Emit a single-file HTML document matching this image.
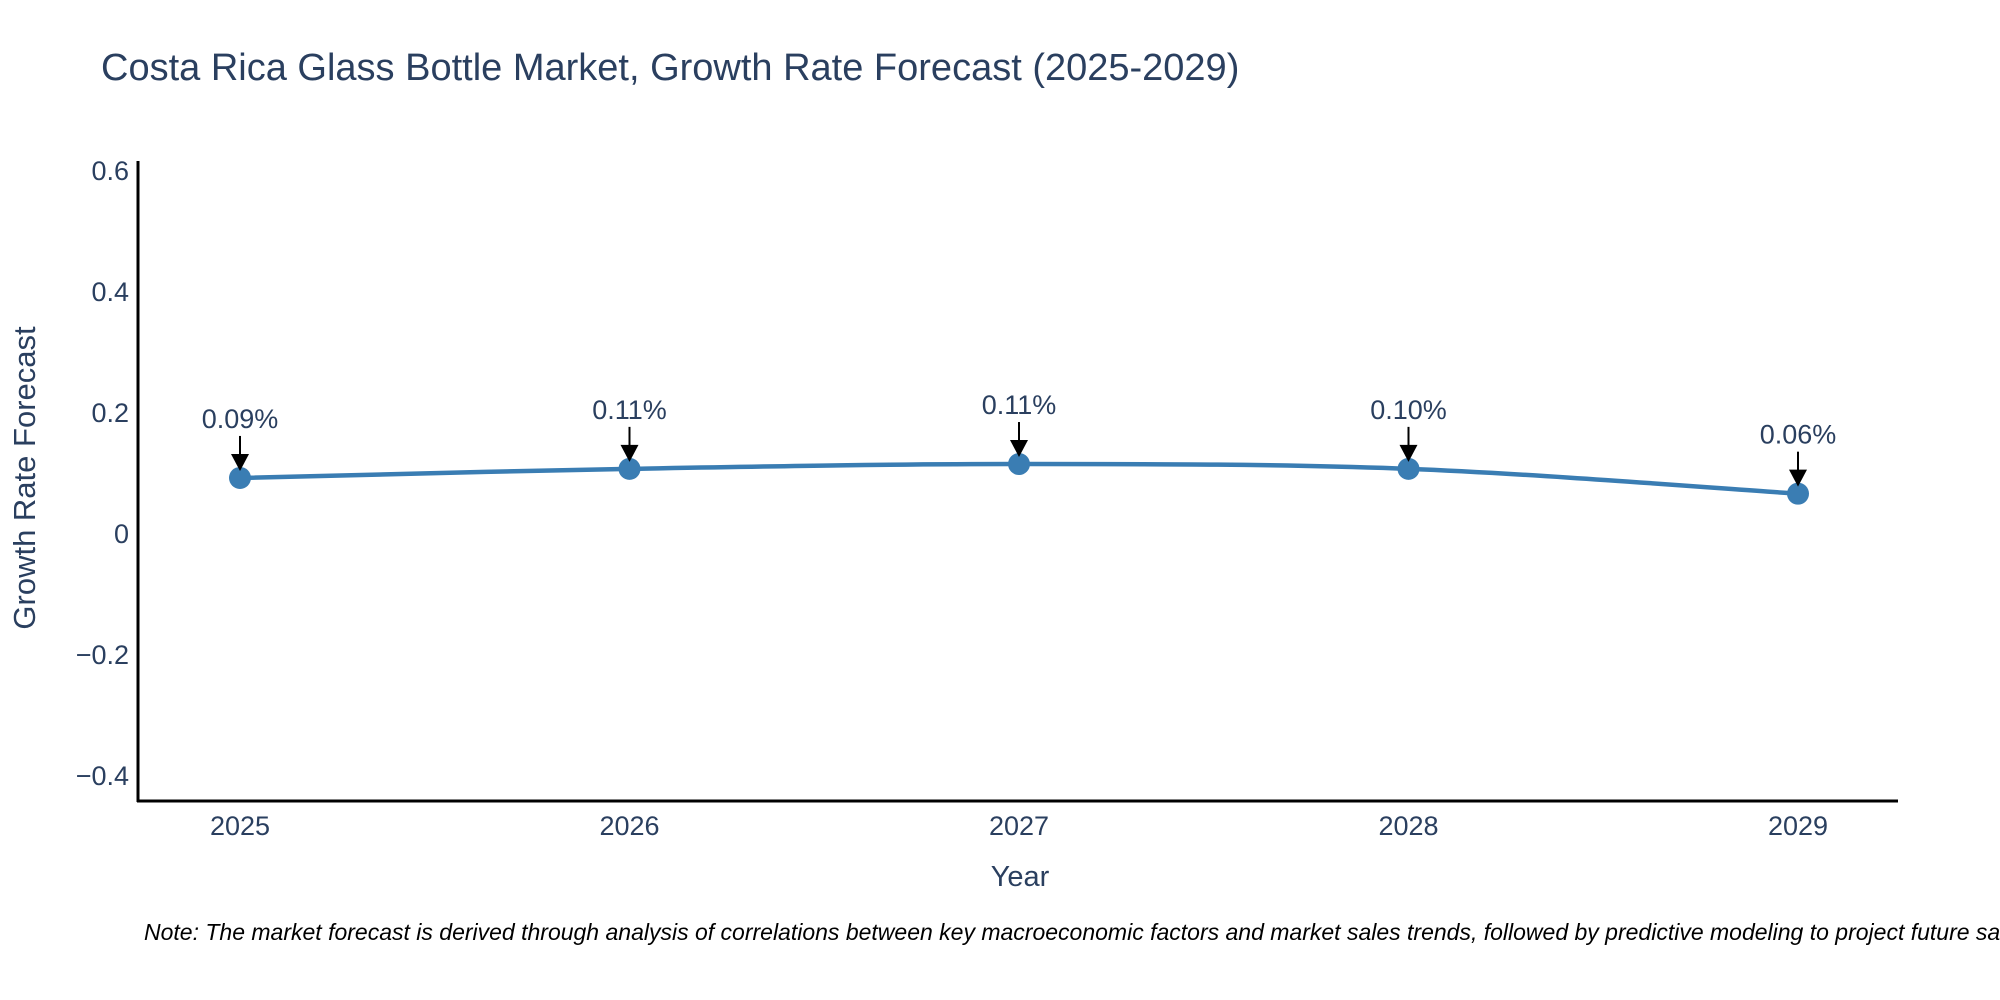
<!DOCTYPE html>
<html><head><meta charset="utf-8"><style>
body{margin:0;background:#fff;overflow:hidden;}
svg{display:block;font-family:"Liberation Sans",Arial,sans-serif;}
</style></head><body>
<svg id="chart" width="2000" height="1000" viewBox="0 0 2000 1000" xmlns="http://www.w3.org/2000/svg">
<text x="101" y="80" font-size="38" fill="#2a3f5f">Costa Rica Glass Bottle Market, Growth Rate Forecast (2025-2029)</text>
<g id="yticks"></g>
<g id="xticks"></g>
<line x1="138" y1="161" x2="138" y2="802" stroke="#000" stroke-width="3"/>
<line x1="137" y1="801" x2="1898" y2="801" stroke="#000" stroke-width="3"/>
<text transform="translate(35,478) rotate(-90)" text-anchor="middle" font-size="31" fill="#2a3f5f">Growth Rate Forecast</text>
<text x="1020" y="886" text-anchor="middle" font-size="29" fill="#2a3f5f">Year</text>
<g id="series"></g>
<g id="annots"></g>
<text x="144" y="940" font-size="23" font-style="italic" fill="#000">Note: The market forecast is derived through analysis of correlations between key macroeconomic factors and market sales trends, followed by predictive modeling to project future sales.</text>
</svg>
<script>
const years = [2025, 2026, 2027, 2028, 2029];
const growth = [0.091, 0.106, 0.114, 0.106, 0.065];
const pointLabels = ["0.09%", "0.11%", "0.11%", "0.10%", "0.06%"];
const yTickValues = [0.6, 0.4, 0.2, 0, -0.2, -0.4];
const yTickLabels = ["0.6", "0.4", "0.2", "0", "\u22120.2", "\u22120.4"];

const NS = "http://www.w3.org/2000/svg";
function xScale(yr){ return 240 + (yr - 2025) * 389.5; }
function yScale(v){ return 533 - v * 605; }
function mk(tag, attrs, parent){ const e=document.createElementNS(NS,tag); for(const k in attrs) e.setAttribute(k,attrs[k]); parent.appendChild(e); return e; }

const yt = document.getElementById('yticks');
yTickValues.forEach((v,i)=>{
  const t = mk('text',{x:129,y:yScale(v)+10,'text-anchor':'end','font-size':27,fill:'#2a3f5f'},yt);
  
  
  t.textContent = yTickLabels[i];
});
const xt = document.getElementById('xticks');
years.forEach(yr=>{
  const t = mk('text',{x:xScale(yr),y:835,'text-anchor':'middle','font-size':27,fill:'#2a3f5f'},xt);
  
  
  t.textContent = String(yr);
});

const s = document.getElementById('series');
const pts = years.map((yr,i)=>[xScale(yr), yScale(growth[i])]);
let d = `M${pts[0][0]},${pts[0][1]}`;
const tension = 0.5/3;
for(let i=0;i<pts.length-1;i++){
  const p0=pts[Math.max(i-1,0)], p1=pts[i], p2=pts[i+1], p3=pts[Math.min(i+2,pts.length-1)];
  const c1=[p1[0]+(p2[0]-p0[0])*tension, p1[1]+(p2[1]-p0[1])*tension];
  const c2=[p2[0]-(p3[0]-p1[0])*tension, p2[1]-(p3[1]-p1[1])*tension];
  d += ` C${c1[0]},${c1[1]} ${c2[0]},${c2[1]} ${p2[0]},${p2[1]}`;
}
const line = mk('path',{d:d,fill:'none',stroke:'#3a7db3','stroke-width':4.5},s);


pts.forEach(p=>{
  const c = mk('circle',{cx:p[0],cy:p[1],r:11,fill:'#3a7db3'},s);
  
  
});

const an = document.getElementById('annots');
pts.forEach((p,i)=>{
  const x=p[0], y=p[1];
  const l = mk('line',{x1:x,y1:y-42,x2:x,y2:y-20,stroke:'#000','stroke-width':2},an);
  
  
  const h = mk('polygon',{points:`${x-9},${y-24} ${x+9},${y-24} ${x},${y-7}`,fill:'#000'},an);
  
  
  const t = mk('text',{x:x,y:y-50,'text-anchor':'middle','font-size':27,fill:'#2a3f5f'},an);
  
  
  t.textContent = pointLabels[i];
});
</script>
</body></html>
